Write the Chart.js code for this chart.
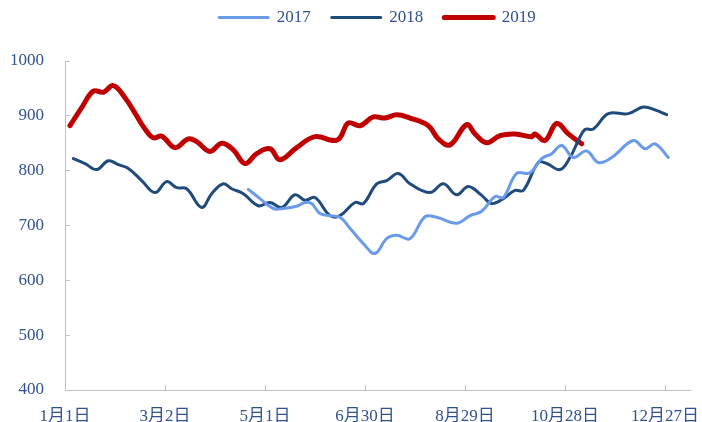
<!DOCTYPE html>
<html><head><meta charset="utf-8">
<script src="https://cdn.jsdelivr.net/npm/chart.js@4/dist/chart.umd.min.js"></script>
<style>html,body{margin:0;padding:0;background:#fff}#wrap{width:702px;height:422px}</style>
</head><body><div id="wrap"><canvas id="c" width="702" height="422"></canvas></div>
<script>
const seriesNames = ['2017', '2018', '2019'];
const days2017 = [110,117,125,131,139,144,148,153,159,165,171,179,186,193,199,207,216,223,235,243,250,258,263,271,279,286,292,298,305,313,320,328,341,348,354,362];
const values2017 = [766,749,731,731,735,742,740,722,718,715,695,667,649,676,682,676,716,715,704,718,726,753,751,795,796,822,831,846,824,836,815,824,855,840,849,824];
const days2018 = [5,12,19,26,32,38,46,54,61,67,73,82,88,95,100,107,116,123,130,138,144,150,159,165,174,179,187,193,200,207,219,227,235,242,250,256,263,270,275,284,289,297,303,308,312,317,326,338,347,354,361];
const values2018 = [822,813,802,818,811,804,782,760,780,769,767,733,758,776,767,758,736,742,733,756,746,751,718,718,742,740,776,782,795,776,760,776,756,771,755,740,749,764,764,815,813,802,824,855,875,876,904,904,916,911,902];
const days2019 = [3,10,17,23,29,36,42,48,53,58,66,74,79,87,94,101,108,115,123,129,139,150,161,165,170,177,185,192,199,207,218,224,231,241,246,253,261,270,280,282,288,295,302,310];
const values2019 = [882,915,945,943,955,933,905,876,860,863,842,858,853,835,850,838,813,831,840,820,842,862,855,860,887,882,898,896,902,896,882,858,847,884,867,851,864,867,862,867,855,886,867,849];
const tickDays = [0, 60, 120, 180, 240, 300, 360];
const tickLabels = ['1月1日', '3月2日', '5月1日', '6月30日', '8月29日', '10月28日', '12月27日'];
const yMin = 400, yMax = 1000, yStep = 100;

const textColor = '#2F5291';
const axisColor = '#BFBFBF';
const fontFamily = "'Liberation Serif', 'Noto Sans CJK SC', serif";
const colors = ['#6A9BEA', '#1F4A7C', '#C00000'];
const widths = [3, 3, 5];

function pts(d, v) { return d.map((x, i) => ({x: x, y: v[i]})); }
const allData = [pts(days2017, values2017), pts(days2018, values2018), pts(days2019, values2019)];

const datasets = seriesNames.map((n, i) => ({
  label: n,
  data: allData[i],
  borderColor: colors[i],
  backgroundColor: colors[i],
  borderWidth: widths[i],
  pointRadius: 0,
  tension: 0.4,
  fill: false,
  borderCapStyle: 'round',
  borderJoinStyle: 'round'
}));

new Chart(document.getElementById('c'), {
  type: 'line',
  data: {datasets: datasets},
  options: {
    responsive: false,
    devicePixelRatio: 1,
    animation: false,
    layout: {padding: {left: 0, right: 12, top: -12, bottom: 0}},
    plugins: {
      tooltip: {enabled: false},
      title: {display: true, text: '', padding: 0, weight: 500, font: {size: 25, lineHeight: 1}},
      legend: {
        position: 'top',
        fullSize: false,
        labels: {
          usePointStyle: true,
          pointStyleWidth: 49,
          padding: 21,
          color: textColor,
          font: {family: fontFamily, size: 17},
          generateLabels: (chart) => chart.data.datasets.map((ds, i) => ({
            text: ds.label,
            datasetIndex: i,
            strokeStyle: ds.borderColor,
            fillStyle: ds.borderColor,
            lineWidth: ds.borderWidth,
            lineCap: 'round',
            pointStyle: 'line',
            fontColor: textColor,
            hidden: false
          }))
        }
      }
    },
    scales: {
      x: {
        type: 'linear',
        min: 0,
        max: 375,
        afterBuildTicks: (s) => { s.ticks = tickDays.map(v => ({value: v})); },
        afterFit: (s) => { s.height = 32; s.paddingLeft = 0; s.paddingRight = 0; },
        border: {color: axisColor, width: 1},
        grid: {display: true, drawOnChartArea: false, drawTicks: true, tickLength: -5, tickColor: axisColor},
        ticks: {
          autoSkip: false,
          maxRotation: 0,
          padding: 21,
          color: textColor,
          font: {family: fontFamily, size: 17},
          callback: (v) => { const k = tickDays.indexOf(v); return k >= 0 ? tickLabels[k] : ''; }
        }
      },
      y: {
        min: yMin,
        max: yMax,
        afterFit: (s) => { s.width = 65; s.paddingTop = 0; s.paddingBottom = 0; },
        border: {color: axisColor, width: 1},
        grid: {display: true, drawOnChartArea: false, drawTicks: true, tickLength: -5, tickColor: axisColor},
        ticks: {
          stepSize: yStep,
          padding: 26,
          color: textColor,
          font: {family: fontFamily, size: 17},
          callback: (v) => String(v)
        }
      }
    }
  }
});
</script></body></html>
